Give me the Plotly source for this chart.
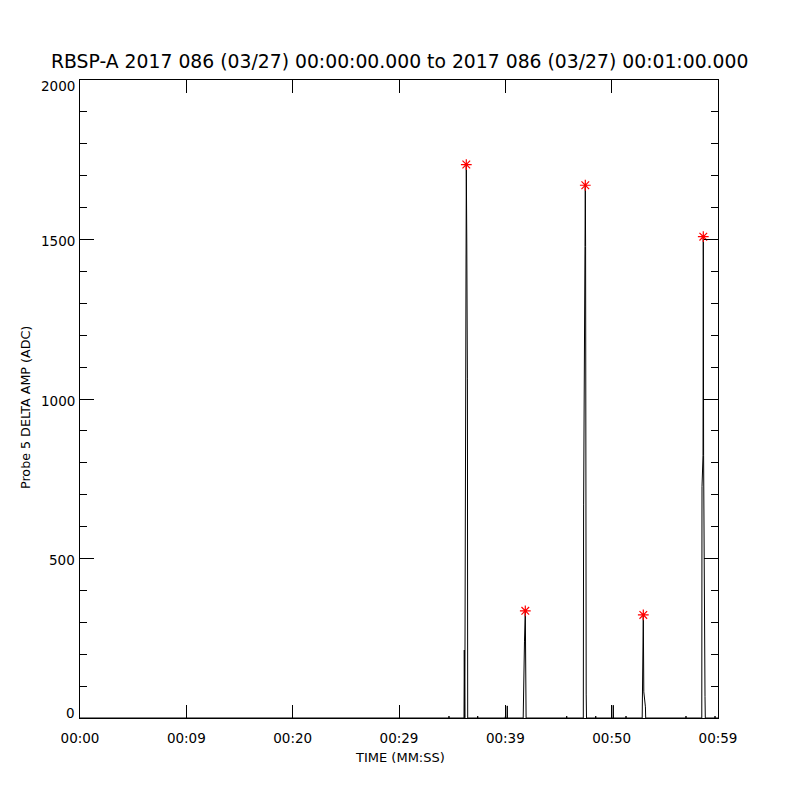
import plotly.graph_objects as go

# ---- data (seconds since 00:00:00, amplitude in ADC) ----
spike1_t = [36.113, 36.141, 36.188, 36.263, 36.329, 36.376, 36.433, 36.461]
spike1_v = [0, 213, 0, 1063, 1735, 1486, 1063, 0]

spike2_t = [41.680, 41.699, 41.802, 41.878, 41.906, 41.934, 41.953]
spike2_v = [0, 72, 241, 336, 241, 60, 0]

spike3_t = [47.332, 47.361, 47.492, 47.521, 47.549, 47.605, 47.633]
spike3_v = [0, 668, 1478, 1670, 1478, 75, 0]

spike4_t = [52.871, 52.890, 52.947, 52.975, 53.022, 53.173, 53.201]
spike4_v = [0, 82, 203, 323, 82, 35, 0]

spike5_t = [58.476, 58.495, 58.589, 58.617, 58.646, 58.777, 58.806]
spike5_v = [0, 725, 822, 1509, 822, 67, 0]

blip_t = [34.70, 37.40, 40.01, 40.18, 45.77, 48.50, 50.15, 51.35, 56.99, 59.72]
blip_v = [6, 6, 6, 38, 6, 6, 40, 6, 6, 6]

peak_t = [36.329, 41.878, 47.521, 52.975, 58.617]
peak_v = [1735, 336, 1670, 323, 1509]

x_tick_vals = [0, 10, 20, 30, 40, 50, 60]
x_tick_text = ["00:00", "00:09", "00:20", "00:29", "00:39", "00:50", "00:59"]
y_tick_vals = [0, 500, 1000, 1500, 2000]
y_tick_text = ["0", "500", "1000", "1500", "2000"]

title_text = "RBSP-A 2017 086 (03/27) 00:00:00.000 to 2017 086 (03/27) 00:01:00.000"
x_title = "TIME (MM:SS)"
y_title = "Probe 5 DELTA AMP (ADC)"

# ---- assemble the time series ----
events = []
for ts, vs in [(spike1_t, spike1_v), (spike2_t, spike2_v), (spike3_t, spike3_v),
               (spike4_t, spike4_v), (spike5_t, spike5_v)]:
    events.append((ts, vs))
for t, v in zip(blip_t, blip_v):
    events.append(([t - 0.02, t, t + 0.02], [0, v, 0]))
events.sort(key=lambda e: e[0][0])

times = [0.0]
amps = [0]
for ts, vs in events:
    times.extend(ts)
    amps.extend(vs)
times.append(60.0)
amps.append(0)

FONT = "DejaVu Sans"

fig = go.Figure()
fig.add_trace(go.Scatter(x=times, y=amps, mode="lines",
                         line=dict(color="black", width=1), hoverinfo="skip"))
fig.add_trace(go.Scatter(x=peak_t, y=peak_v, mode="markers",
                         marker=dict(symbol="asterisk-open", size=9, color="red",
                                     line=dict(color="red", width=1.2))))

# page body has an 8px default margin, so the figure sits at (8, 8)
fig.update_layout(
    width=800, height=800, autosize=False,
    margin=dict(l=72, r=90, t=72, b=90),
    paper_bgcolor="white", plot_bgcolor="white",
    showlegend=False,
    font=dict(family=FONT, color="black"),
)

fig.update_xaxes(range=[0, 60], tickvals=x_tick_vals, ticktext=x_tick_text,
                 ticks="inside", ticklen=13, tickwidth=1, tickcolor="black",
                 showline=True, linecolor="black", linewidth=1, mirror="ticks",
                 showgrid=False, zeroline=False,
                 tickfont=dict(family=FONT, size=13.5, color="black"),
                 ticklabelstandoff=8)
fig.update_yaxes(range=[0, 2000], tickvals=y_tick_vals, showticklabels=False,
                 ticks="inside", ticklen=14, tickwidth=1, tickcolor="black",
                 minor=dict(dtick=100, ticks="inside", ticklen=7, tickcolor="black",
                            tickwidth=1, showgrid=False),
                 showline=True, linecolor="black", linewidth=1, mirror="ticks",
                 showgrid=False, zeroline=False)

# y tick labels placed like the IDL original (end ones nudged inside the range)
label_nudge = {0: 5, 2000: -6}
for val, txt in zip(y_tick_vals, y_tick_text):
    fig.add_annotation(text=txt, xref="paper", yref="y", x=0, y=val,
                       xanchor="right", yanchor="middle", xshift=-3,
                       yshift=label_nudge.get(val, -1.5), showarrow=False,
                       font=dict(family=FONT, size=13.5, color="black"))

fig.add_annotation(text=title_text, xref="paper", yref="paper",
                   x=(400 - 80) / 638, y=(718 - 62) / 638,
                   xanchor="center", yanchor="middle", showarrow=False,
                   font=dict(family=FONT, size=18.8, color="black"))
fig.add_annotation(text=x_title, xref="paper", yref="paper",
                   x=(400 - 80) / 638, y=(718 - 758) / 638,
                   xanchor="center", yanchor="middle", showarrow=False,
                   font=dict(family=FONT, size=13, color="black"))
fig.add_annotation(text=y_title, xref="paper", yref="paper",
                   x=(25 - 80) / 638, y=(718 - 408) / 638, textangle=-90,
                   xanchor="center", yanchor="middle", showarrow=False,
                   font=dict(family=FONT, size=12.7, color="black"))

fig.write_html("out.html")
